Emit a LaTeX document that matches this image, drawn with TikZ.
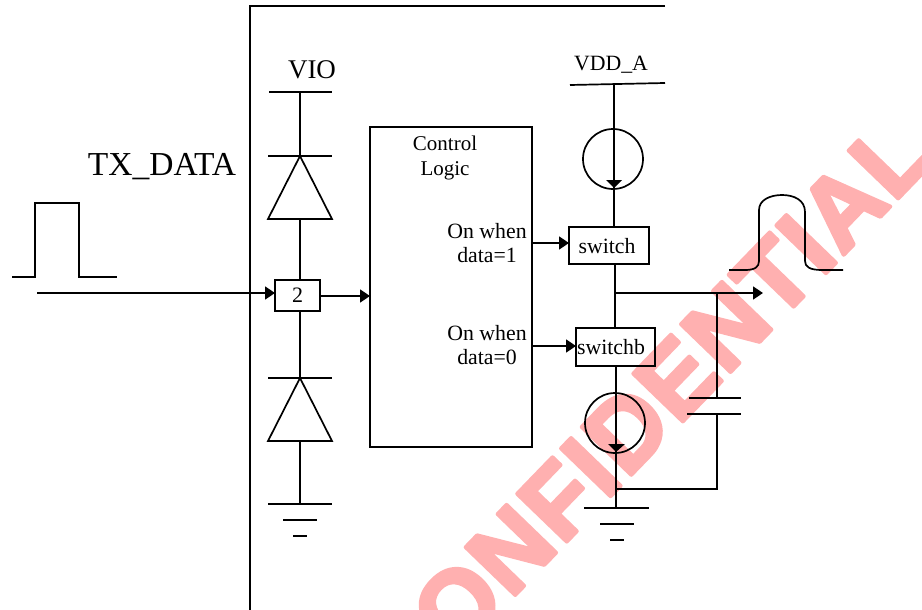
\documentclass[tikz,border=0pt]{standalone}
\usepackage{fontspec}
\setmainfont{Liberation Serif}
\newfontfamily\markfont[LetterSpace=2]{Liberation Sans Bold}
\usetikzlibrary{arrows.meta}
\begin{document}
\begin{tikzpicture}[x=1pt,y=-1pt,line width=1.7pt]
	\tikzset{>={Triangle[length=10pt,width=13pt]}}
	\tikzset{blockbox/.style={draw,outer sep=0pt,inner sep=0pt,anchor=north west,font=\fontsize{22}{24}\selectfont}}
	\tikzset{lbl/.style={inner sep=0pt,font=\fontsize{21.8}{24.5}\selectfont,align=center}}
	\useasboundingbox (0,0) rectangle (922,610);

	% watermark
	\begin{scope}
		\clip (0,0) rectangle (922,610);
		\node[rotate=46,font=\markfont\fontsize{100}{100}\selectfont,inner sep=0pt] (mark) at (645,411)
			{\special{pdf:code q 1 j 1 J 4 w 2 Tr 1 .69 .69 RG 1 .69 .69 rg}CONFIDENTIAL\special{pdf:code Q}};
	\end{scope}

	% chip outline
	\coordinate (frameTop) at (665,6);
	\coordinate (frameCorner) at (250,6);
	\coordinate (frameBot) at (250,610);
	\draw (frameTop) -- (frameCorner) -- (frameBot);

	\node[lbl,font=\fontsize{27}{30}\selectfont] (vio) at (312,70) {VIO};
	\node[lbl,font=\fontsize{33.5}{36}\selectfont] (txdata) at (162,167) {TX\_DATA};

	% input pulse
	\coordinate (pulseL) at (12,277);
	\coordinate (pulseR) at (117,277);
	\draw (pulseL) -- ++(23,0) -- ++(0,-74) -- ++(44,0) -- ++(0,74) -- (pulseR);

	% blocks
	\node[blockbox,minimum width=45pt,minimum height=31pt] (two) at (275,280) {2};
	\node[blockbox,minimum width=162pt,minimum height=320pt] (logic) at (370,127) {};
	\node[blockbox,minimum width=80pt,minimum height=37pt] (sw) at (569,227) {};
	\node[blockbox,minimum width=79pt,minimum height=38pt] (swb) at (576,328) {};
	\node[lbl] (swtext) at (607,246) {switch};
	\node[lbl] (swbtext) at (611,347) {switchb};

	\node[lbl,font=\fontsize{21}{24.5}\selectfont] (ctl) at (445,158) {Control\\Logic};
	\node[lbl] (on1) at (487,243) {On when\\data=1};
	\node[lbl] (on0) at (487,345) {On when\\data=0};

	% input and logic arrows
	\coordinate (inStart) at (37,293);
	\draw[->] (inStart) -- (two.west |- inStart);
	\draw[->] (two.east |- 0,296) -- (logic.west |- 0,296);
	\draw[->] (logic.east |- 0,243) -- (sw.west |- 0,243);
	\draw[->] (logic.east |- 0,346) -- (swb.west |- 0,346);

	% upper diode
	\coordinate (vioTop) at (300,92);
	\coordinate (d1a) at (300,156);
	\coordinate (d1b) at (300,219);
	\draw (269,92) -- (332,92);
	\draw (vioTop) -- (d1a);
	\draw (268,156) -- (332,156);
	\draw (d1a) -- (268,219) -- (332,219) -- cycle;
	\draw (d1b) -- (d1b |- two.north);

	% lower diode
	\coordinate (d2a) at (300,378);
	\coordinate (d2b) at (300,441);
	\coordinate (gnd1) at (300,504);
	\draw (d2a |- two.south) -- (d2a);
	\draw (268,378) -- (332,378);
	\draw (d2a) -- (268,441) -- (332,441) -- cycle;
	\draw (d2b) -- (gnd1);
	\draw (268,504) -- (332,504);
	\draw (283,520) -- (317,520);
	\draw (293,536) -- (307,536);

	% supply and sources
	\node[lbl] (vdd) at (611,65) {VDD\_A};
	\coordinate (railL) at (570,85);
	\coordinate (railR) at (665,83);
	\draw (railL) -- (railR);
	\node[draw,circle,minimum size=60pt,inner sep=0pt,outer sep=0pt] (src1) at (613,159) {};
	\node[draw,circle,minimum size=60pt,inner sep=0pt,outer sep=0pt] (src2) at (615,423) {};
	\draw (614,84) -- (614,227);
	\fill (606,180) -- (622,180) -- (614,188) -- cycle;
	\draw (615,264) -- (615,328);
	\coordinate (outJoin) at (615,293);
	\coordinate (outEnd) at (763,293);
	\draw[->] (outJoin) -- (outEnd);
	\draw (616,366) -- (616,508);
	\fill (608,444) -- (625,444) -- (616,452) -- cycle;

	% capacitor
	\coordinate (capTop) at (717,293);
	\coordinate (capA) at (717,398);
	\coordinate (capB) at (717,414);
	\coordinate (capC) at (717,489);
	\coordinate (capGnd) at (617,489);
	\draw (capTop) -- (capA);
	\draw (689,398) -- (741,398);
	\draw (687,414) -- (741,414);
	\draw (capB) -- (capC) -- (capGnd);

	% ground
	\draw (584,508) -- (649,508);
	\draw (600,524) -- (634,524);
	\draw (610,540) -- (624,540);

	% output pulse
	\coordinate (outL) at (729,270);
	\coordinate (outR) at (843,270);
	\draw (outL) -- (745,270) .. controls (755,270) and (759,267) .. (759,261) -- (759,210)
		.. controls (759,200) and (770,195) .. (782,195) .. controls (794,195) and (805,200) .. (805,212)
		-- (805,261) .. controls (805,267) and (810,270) .. (822,270) -- (outR);
\end{tikzpicture}
\end{document}
